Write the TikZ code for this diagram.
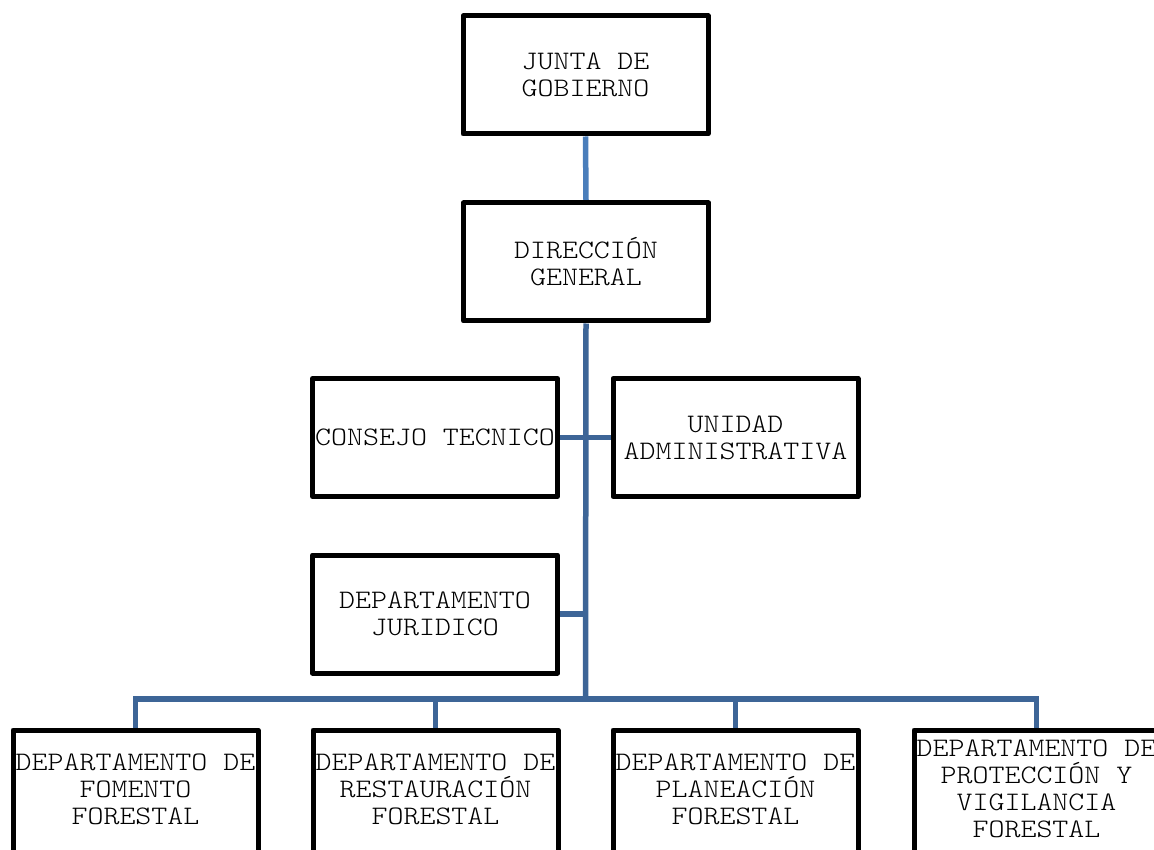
\documentclass[tikz,border=0pt]{standalone}
\usepackage{fontspec}
\newfontfamily\orgfont[FakeStretch=1.14]{lmmonolt10-regular.otf}
\usetikzlibrary{backgrounds}
\definecolor{toplink}{HTML}{4A7EBB}
\definecolor{link}{HTML}{3D6597}
\tikzset{
  boxline/.style={draw=black, line width=5pt, line join=round},
  box/.style={boxline, minimum width=245pt, minimum height=118pt,
    inner sep=0pt, align=center, font=\orgfont\fontsize{26.7}{27}\selectfont},
  lowbox/.style={box, draw=none, outer sep=0pt},
  conn/.style={draw=link, line width=5.5pt},
}
\begin{document}
\begin{tikzpicture}[x=1pt,y=-1pt]
\useasboundingbox (0,0) rectangle (1154,850);
\clip (0,0) rectangle (1154,850);
\node[box] (junta) at (585.5,75) {JUNTA DE\\GOBIERNO};
\node[box] (dir) at (586,262) {DIRECCIÓN\\GENERAL};
\node[box] (cons) at (435,437.5) {CONSEJO TECNICO};
\node[box] (uni) at (735.5,437.5) {UNIDAD\\ADMINISTRATIVA};
\node[box] (jur) at (435,614) {DEPARTAMENTO\\JURIDICO};
\node[lowbox] (b1) at (135.5,789) {DEPARTAMENTO DE\\FOMENTO\\FORESTAL};
\node[lowbox] (b2) at (435.5,789) {DEPARTAMENTO DE\\RESTAURACIÓN\\FORESTAL};
\node[lowbox] (b3) at (735.5,789) {DEPARTAMENTO DE\\PLANEACIÓN\\FORESTAL};
\node[lowbox] (b4) at (1036.5,789) {DEPARTAMENTO DE\\PROTECCIÓN Y\\VIGILANCIA\\FORESTAL};
\foreach \b in {b1,b2,b3,b4}
  \draw[boxline] (\b.north west) rectangle ([yshift=-30pt]\b.south east);
\coordinate (bus) at (585.5,699);
\begin{scope}[on background layer]
\draw[conn, draw=toplink] (junta.south) -- (dir.north);
\draw[conn] (dir.south) -- (bus);
\draw[conn] (cons.east) -- (uni.west);
\draw[conn] (jur.east) -- (jur.east -| bus);
\draw[conn, line cap=rect] (b1.north |- bus) -- (b4.north |- bus);
\draw[conn] (b1.north) -- (b1.north |- bus);
\draw[conn] (b2.north) -- (b2.north |- bus);
\draw[conn] (b3.north) -- (b3.north |- bus);
\draw[conn] (b4.north) -- (b4.north |- bus);
\end{scope}
\end{tikzpicture}
\end{document}
